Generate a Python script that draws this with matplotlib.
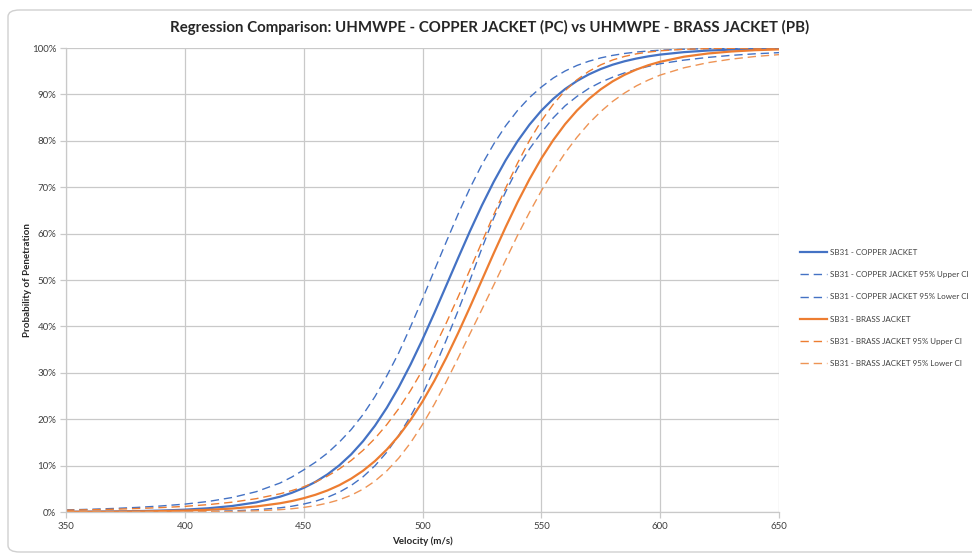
import matplotlib.pyplot as plt
import matplotlib.ticker as mticker
from matplotlib.patches import FancyBboxPatch

# velocity grid (m/s)
velocity = [350, 360, 370, 380, 390, 400, 410, 420, 430, 440,
            445, 450, 455, 460, 465, 470, 475, 480, 485, 490, 495, 500, 505, 510,
            515, 520, 525, 530, 535, 540, 545, 550, 555, 560, 565, 570, 575, 580,
            585, 590, 595, 600, 610, 620, 630, 640, 650]

# probability of penetration (%)
copper = [0.05, 0.08, 0.12, 0.19, 0.31, 0.50, 0.81, 1.30, 2.07, 3.29,
          4.13, 5.19, 6.50, 8.10, 10.06, 12.43, 15.27, 18.60, 22.48, 26.89, 31.82, 37.19, 42.90, 48.81,
          54.74, 60.56, 66.09, 71.20, 75.82, 79.92, 83.47, 86.50, 89.04, 91.16, 92.90, 94.32, 95.47, 96.40,
          97.14, 97.73, 98.20, 98.58, 99.11, 99.45, 99.66, 99.79, 99.87]
copper_upper = [0.45, 0.58, 0.76, 0.99, 1.30, 1.70, 2.28, 3.13, 4.37, 6.23,
                7.53, 9.07, 10.74, 12.69, 15.06, 17.77, 21.01, 24.87, 29.36, 34.30, 39.97, 45.91, 52.10, 58.22,
                64.22, 69.83, 74.88, 79.33, 83.24, 86.54, 89.32, 91.58, 93.52, 95.04, 96.24, 97.15, 97.87, 98.41,
                98.82, 99.13, 99.35, 99.52, 99.74, 99.86, 99.93, 99.96, 99.98]
copper_lower = [0.00, 0.005, 0.01, 0.02, 0.04, 0.07, 0.13, 0.25, 0.47, 0.90,
                1.24, 1.71, 2.33, 3.17, 4.27, 5.73, 7.59, 9.97, 12.90, 16.52, 20.67, 25.35, 31.00, 37.05,
                43.41, 50.00, 56.83, 63.41, 69.00, 74.08, 78.24, 81.76, 84.94, 87.54, 89.57, 91.29, 92.62, 93.70,
                94.63, 95.39, 96.04, 96.61, 97.39, 97.97, 98.42, 98.75, 99.00]
brass = [0.03, 0.05, 0.07, 0.12, 0.19, 0.30, 0.47, 0.75, 1.19, 1.88,
         2.36, 2.97, 3.72, 4.64, 5.78, 7.19, 8.90, 10.98, 13.47, 16.41, 19.86, 23.81, 28.29, 33.23,
         38.58, 44.21, 50.00, 55.79, 61.42, 66.77, 71.71, 76.19, 80.14, 83.59, 86.53, 89.02, 91.10, 92.81,
         94.22, 95.36, 96.29, 97.03, 98.12, 98.81, 99.25, 99.53, 99.70]
brass_upper = [0.39, 0.48, 0.59, 0.75, 0.95, 1.21, 1.60, 2.12, 2.87, 3.92,
               4.61, 5.42, 6.48, 7.73, 9.28, 11.11, 13.30, 15.85, 18.85, 22.27, 26.21, 30.58, 35.43, 40.73,
               46.38, 52.25, 58.18, 64.11, 69.84, 75.21, 80.06, 84.29, 87.87, 90.80, 93.15, 94.98, 96.37, 97.42,
               98.18, 98.74, 99.12, 99.40, 99.72, 99.87, 99.94, 99.97, 99.99]
brass_lower = [0.001, 0.002, 0.005, 0.009, 0.017, 0.034, 0.065, 0.13, 0.25, 0.50,
               0.70, 0.99, 1.37, 1.91, 2.63, 3.62, 4.93, 6.66, 8.87, 11.61, 14.93, 18.85, 23.24, 28.09,
               33.18, 38.46, 43.66, 48.93, 54.29, 59.63, 64.57, 69.21, 73.50, 77.38, 80.77, 83.75, 86.30, 88.49,
               90.29, 91.84, 93.09, 94.16, 95.73, 96.83, 97.61, 98.17, 98.57]

labels = ['SB31 - COPPER JACKET',
          'SB31 - COPPER JACKET 95% Upper CI',
          'SB31 - COPPER JACKET 95% Lower CI',
          'SB31 - BRASS JACKET',
          'SB31 - BRASS JACKET 95% Upper CI',
          'SB31 - BRASS JACKET 95% Lower CI']

blue = '#4472C4'
orange = '#ED7D31'
grid_c = '#C9C9C9'
text_c = '#404040'

plt.rcParams['font.family'] = ['Lato', 'DejaVu Sans']

fig = plt.figure(figsize=(9.72, 5.53), dpi=100)
ax = fig.add_axes([66 / 972, 1 - 512 / 553, (779 - 66) / 972, (512 - 48) / 553])

# chart outer frame (rounded, runs off the right edge)
frame = FancyBboxPatch((8 / 972, 1 / 553), 1.2, (543 - 1) / 553,
                       boxstyle='round,pad=0,rounding_size=0.012',
                       transform=fig.transFigure, fill=False,
                       edgecolor='#D0D0D0', linewidth=1.0, zorder=0)
fig.patches.append(frame)

dash = (6, 3.5)
ax.plot(velocity, copper, color=blue, lw=1.6, label=labels[0])
ax.plot(velocity, copper_upper, color=blue, lw=1.0, dashes=dash, label=labels[1])
ax.plot(velocity, copper_lower, color=blue, lw=1.0, dashes=dash, label=labels[2])
ax.plot(velocity, brass, color=orange, lw=1.6, label=labels[3])
ax.plot(velocity, brass_upper, color=orange, lw=1.0, dashes=dash, label=labels[4])
ax.plot(velocity, brass_lower, color='#EE9455', lw=1.0, dashes=dash, label=labels[5])

ax.set_xlim(350, 650)
ax.set_ylim(0, 100)
ax.set_xticks(range(350, 651, 50))
ax.set_yticks(range(0, 101, 10))
ax.yaxis.set_major_formatter(mticker.FuncFormatter(lambda v, p: f'{v:.0f}%'))
ax.grid(True, color=grid_c, linewidth=0.9)
ax.set_axisbelow(True)
for s in ['top', 'right']:
    ax.spines[s].set_visible(False)
for s in ['left', 'bottom']:
    ax.spines[s].set_color(grid_c)
    ax.spines[s].set_linewidth(0.9)
ax.tick_params(colors=grid_c, labelcolor=text_c, labelsize=7, length=4, width=0.9, pad=3)

ax.set_xlabel('Velocity (m/s)', fontsize=7, fontweight='bold', color='#262626', labelpad=4)
ax.set_ylabel('Probability of Penetration', fontsize=7, fontweight='bold', color='#262626', labelpad=0)

fig.text(490 / 972, 1 - 27 / 553, 'Regression Comparison: UHMWPE - COPPER JACKET (PC) vs UHMWPE - BRASS JACKET (PB)',
         ha='center', va='center', fontsize=10.8, fontweight='bold', color='#262626')

leg = ax.legend(loc='center left', bbox_to_anchor=(800 / 972, 1 - 308 / 553),
                bbox_transform=fig.transFigure, frameon=False, fontsize=5.8,
                labelspacing=1.9, handlelength=3.4, handletextpad=0.35, borderpad=0, borderaxespad=0)
for t in leg.get_texts():
    t.set_color(text_c)

fig.savefig('out.png', dpi=100)
